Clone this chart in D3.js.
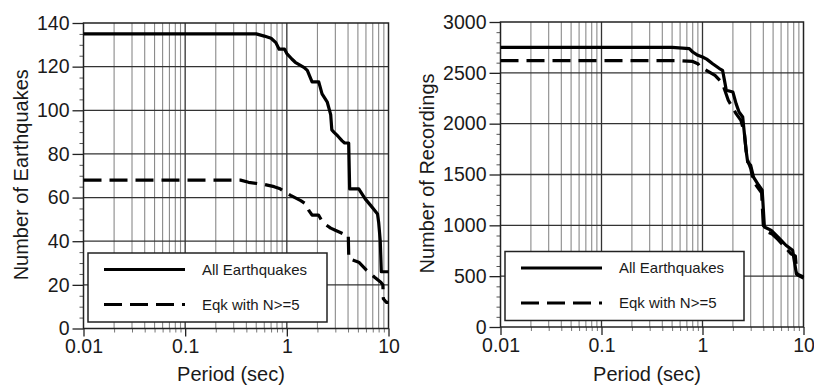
<!DOCTYPE html>
<html>
<head>
<meta charset="utf-8">
<script src="https://cdn.jsdelivr.net/npm/d3@7"></script>
<style>
  html, body { margin: 0; padding: 0; background: #fff; }
  svg { display: block; font-family: "Liberation Sans", Arial, Helvetica, sans-serif; }
</style>
</head>
<body>
<svg id="chart" width="814" height="385"></svg>
<script>
// Cumulative counts versus spectral period, [period (s), count]
const allEqkCounts = [
  [0.01, 135], [0.5, 135], [0.6, 134], [0.7, 133], [0.78, 131], [0.84, 128], [0.95, 128],
  [1.0, 126], [1.12, 123.5], [1.21, 122], [1.47, 119.7], [1.59, 118.3], [1.77, 113],
  [2.06, 113], [2.22, 107.5], [2.5, 103.7], [2.7, 98], [2.77, 91], [2.9, 90], [3.2, 88],
  [3.5, 86], [3.7, 85], [4.06, 85], [4.15, 64], [5.1, 64], [5.9, 59.4], [6.7, 56.3],
  [7.8, 52.5], [8.0, 48.7], [8.3, 40], [8.5, 26], [10, 26]
];
const n5EqkCounts = [
  [0.01, 68], [0.35, 68], [0.42, 67], [0.6, 66], [0.75, 65], [0.86, 64], [1.0, 62],
  [1.09, 61], [1.37, 58.6], [1.55, 57], [1.65, 54], [1.77, 52], [2.05, 52], [2.2, 49.5],
  [2.35, 48], [2.7, 46], [3.0, 45], [3.6, 43.4], [4.02, 43], [4.07, 32], [5.1, 30.4],
  [6.1, 26.6], [7.3, 23.5], [8.4, 21.2], [8.8, 20], [8.9, 13.6], [9.5, 12], [10, 12]
];
const allRecCounts = [
  [0.01, 2750], [0.5, 2750], [0.74, 2738], [0.8, 2705], [0.9, 2672], [1.0, 2656],
  [1.1, 2635], [1.26, 2590], [1.47, 2542], [1.58, 2525], [1.65, 2426], [1.72, 2328],
  [2.0, 2311], [2.15, 2197], [2.3, 2115], [2.5, 2066], [2.7, 1738], [2.8, 1623],
  [3.0, 1590], [3.2, 1475], [3.6, 1394], [3.9, 1345], [4.1, 984], [4.8, 951],
  [5.6, 885], [6.7, 804], [7.8, 754], [8.5, 525], [10, 492]
];
const n5RecCounts = [
  [0.01, 2620], [0.6, 2620], [0.8, 2612], [0.9, 2590], [0.95, 2555], [1.05, 2535],
  [1.33, 2475], [1.5, 2420], [1.58, 2394], [1.8, 2230], [2.15, 2099], [2.4, 2033],
  [2.6, 1905], [2.75, 1660], [3.0, 1560], [3.2, 1430], [3.6, 1360], [3.85, 1320],
  [4.0, 1000], [4.4, 935], [4.9, 915], [5.6, 860], [6.5, 790], [7.5, 720], [8.3, 700],
  [8.6, 515], [10, 480]
];

const periodTicks = [0.01, 0.1, 1, 10];
const periodTickLabels = ["0.01", "0.1", "1", "10"];
const eqkTicks = [0, 20, 40, 60, 80, 100, 120, 140];
const recTicks = [0, 500, 1000, 1500, 2000, 2500, 3000];
const legendLabels = ["All Earthquakes", "Eqk with N>=5"];

const svg = d3.select("#chart");

function drawPanel(cfg) {
  const { left, right, top, bottom, yMax, yTicks, yMinorStep, yTitle, series, titleX } = cfg;
  const x = d3.scaleLog().domain([0.01, 10]).range([left, right]);
  const y = d3.scaleLinear().domain([0, yMax]).range([bottom, top]);
  const g = svg.append("g");

  // log-decade minor grid (2..9) and decade lines
  const minor = [];
  for (let dec = 0.01; dec < 10; dec *= 10) {
    for (let k = 2; k <= 9; k++) minor.push(+(dec * k).toPrecision(3));
  }
  g.append("g").selectAll("line").data(minor).join("line")
    .attr("x1", d => x(d)).attr("x2", d => x(d))
    .attr("y1", top).attr("y2", bottom)
    .attr("stroke", "#8a8a8a").attr("stroke-width", 1.1);
  g.append("g").selectAll("line").data(periodTicks.slice(1, -1)).join("line")
    .attr("x1", d => x(d)).attr("x2", d => x(d))
    .attr("y1", top).attr("y2", bottom)
    .attr("stroke", "#333").attr("stroke-width", 1.3);
  g.append("g").selectAll("line").data(yTicks.slice(1, -1)).join("line")
    .attr("x1", left).attr("x2", right)
    .attr("y1", d => y(d)).attr("y2", d => y(d))
    .attr("stroke", "#333").attr("stroke-width", 1.3);

  // axes
  const yMinor = d3.range(0, yMax + 1e-9, yMinorStep).filter(v => !yTicks.includes(v));
  g.append("g").attr("transform", `translate(${left},0)`)
    .call(d3.axisLeft(y).tickValues(yMinor).tickSize(4).tickFormat(""))
    .call(a => a.select(".domain").remove())
    .selectAll("line").attr("stroke", "#555");
  const yAxis = g.append("g").attr("transform", `translate(${left},0)`)
    .call(d3.axisLeft(y).tickValues(yTicks).tickSize(11).tickPadding(3).tickFormat(d3.format("d")));
  yAxis.select(".domain").remove();
  yAxis.selectAll("line").attr("stroke", "#222").attr("stroke-width", 1.3);
  yAxis.selectAll("text").attr("font-size", 19.5).attr("fill", "#1a1a1a")
    .attr("font-family", "'Liberation Sans', Arial, sans-serif");

  g.append("g").attr("transform", `translate(0,${bottom})`)
    .call(d3.axisBottom(x).tickValues(minor).tickSize(4).tickFormat(""))
    .call(a => a.select(".domain").remove())
    .selectAll("line").attr("stroke", "#777");
  const xAxis = g.append("g").attr("transform", `translate(0,${bottom})`)
    .call(d3.axisBottom(x).tickValues(periodTicks).tickSize(8).tickPadding(3)
      .tickFormat((d, i) => periodTickLabels[i]));
  xAxis.select(".domain").remove();
  xAxis.selectAll("line").attr("stroke", "#222").attr("stroke-width", 1.3);
  xAxis.selectAll("text").attr("font-size", 19.5).attr("fill", "#1a1a1a")
    .attr("font-family", "'Liberation Sans', Arial, sans-serif");

  // plot frame
  g.append("rect").attr("x", left).attr("y", top)
    .attr("width", right - left).attr("height", bottom - top)
    .attr("fill", "none").attr("stroke", "#222").attr("stroke-width", 1.5);

  // curves
  const line = d3.line().x(d => x(d[0])).y(d => y(d[1]));
  series.forEach(s => {
    g.append("path").datum(s.data)
      .attr("d", line)
      .attr("fill", "none").attr("stroke", "#000").attr("stroke-width", 3.2)
      .attr("stroke-linejoin", "round")
      .attr("stroke-dasharray", s.dash || null);
  });

  // legend
  const lx = left + 4.5, ly = bottom - 75.5, lw = 239, lh = 69;
  const leg = g.append("g");
  leg.append("rect").attr("x", lx).attr("y", ly).attr("width", lw).attr("height", lh)
    .attr("fill", "#fff").attr("stroke", "#222").attr("stroke-width", 1.5);
  series.forEach((s, i) => {
    const yy = ly + 16.5 + i * 35;
    leg.append("line").attr("x1", lx + 16).attr("x2", lx + 97)
      .attr("y1", yy).attr("y2", yy)
      .attr("stroke", "#000").attr("stroke-width", 3.2)
      .attr("stroke-dasharray", s.dash || null);
    leg.append("text").attr("x", lx + 114).attr("y", yy + 5)
      .attr("font-size", 15).attr("fill", "#1a1a1a").text(legendLabels[i]);
  });

  // titles
  g.append("text").attr("x", (left + right) / 2 - 5).attr("y", 381)
    .attr("text-anchor", "middle").attr("font-size", 20).attr("fill", "#1a1a1a")
    .text("Period (sec)");
  g.append("text")
    .attr("transform", `translate(${titleX},${(top + bottom) / 2 - 1}) rotate(-90)`)
    .attr("text-anchor", "middle").attr("font-size", 20).attr("fill", "#1a1a1a")
    .text(yTitle);
}

drawPanel({
  left: 83.5, right: 388.5, top: 23, bottom: 328.5, yMax: 140,
  yTicks: eqkTicks, yMinorStep: 5, yTitle: "Number of Earthquakes", titleX: 28,
  series: [{ data: allEqkCounts }, { data: n5EqkCounts, dash: "18,8" }]
});
drawPanel({
  left: 500.5, right: 803.5, top: 22, bottom: 327, yMax: 3000,
  yTicks: recTicks, yMinorStep: 100, yTitle: "Number of Recordings", titleX: 434,
  series: [{ data: allRecCounts }, { data: n5RecCounts, dash: "18,8" }]
});
</script>
</body>
</html>
